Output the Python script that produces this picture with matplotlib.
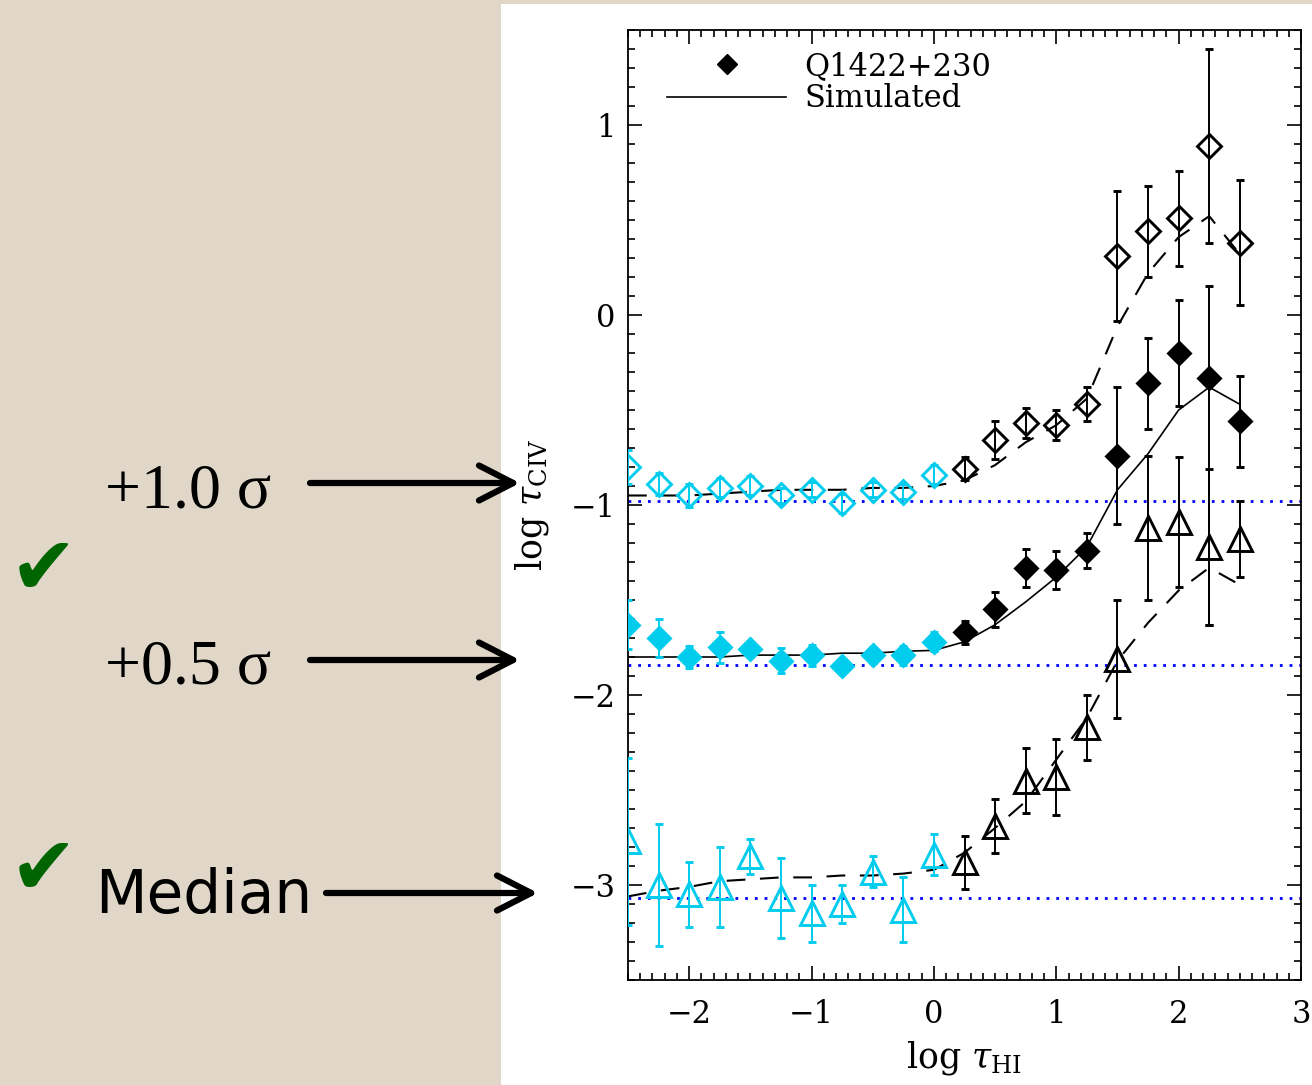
import numpy as np
import matplotlib
matplotlib.use('Agg')
from matplotlib import pyplot as plt
from matplotlib.lines import Line2D
from matplotlib.patches import Rectangle, FancyArrowPatch
from matplotlib.ticker import MultipleLocator

# bins in log tau_HI
log_tau_hi = [-2.5, -2.25, -2.0, -1.75, -1.5, -1.25, -1.0, -0.75, -0.5, -0.25, 0.0,
              0.25, 0.5, 0.75, 1.0, 1.25, 1.5, 1.75, 2.0, 2.25, 2.5]

# +1.0 sigma percentile (open diamonds)
p10_obs = [-0.80, -0.89, -0.95, -0.91, -0.90, -0.95, -0.92, -0.99, -0.92, -0.93, -0.84,
           -0.81, -0.66, -0.57, -0.58, -0.47, 0.31, 0.44, 0.51, 0.89, 0.38]
p10_err = [0.09, 0.06, 0.06, 0.05, 0.05, 0.04, 0.04, 0.05, 0.04, 0.04, 0.05,
           0.06, 0.10, 0.08, 0.08, 0.09, 0.34, 0.24, 0.25, 0.51, 0.33]
p10_sim = [-0.95, -0.95, -0.95, -0.94, -0.93, -0.92, -0.92, -0.92, -0.91, -0.91, -0.90,
           -0.87, -0.79, -0.67, -0.58, -0.44, -0.06, 0.22, 0.41, 0.52, 0.32]

# +0.5 sigma percentile (filled diamonds)
p05_obs = [-1.63, -1.70, -1.80, -1.75, -1.76, -1.82, -1.79, -1.85, -1.79, -1.79, -1.72,
           -1.67, -1.55, -1.33, -1.34, -1.24, -0.74, -0.36, -0.20, -0.33, -0.56]
p05_err_lo = [0.13, 0.10, 0.06, 0.08, 0.04, 0.065, 0.055, 0.03, 0.04, 0.05, 0.05,
              0.06, 0.09, 0.10, 0.10, 0.09, 0.36, 0.24, 0.28, 1.30, 0.24]
p05_err_hi = [0.13, 0.10, 0.06, 0.08, 0.04, 0.065, 0.055, 0.03, 0.04, 0.05, 0.05,
              0.06, 0.09, 0.10, 0.10, 0.09, 0.36, 0.24, 0.28, 0.48, 0.24]
p05_sim = [-1.80, -1.80, -1.80, -1.80, -1.79, -1.79, -1.79, -1.78, -1.78, -1.77, -1.765,
           -1.72, -1.63, -1.51, -1.38, -1.22, -0.92, -0.73, -0.50, -0.38, -0.47]

# median (open triangles)
med_obs = [-2.77, -3.00, -3.05, -3.01, -2.85, -3.07, -3.15, -3.10, -2.93, -3.13, -2.84,
           -2.88, -2.69, -2.45, -2.43, -2.17, -1.81, -1.12, -1.09, -1.22, -1.18]
med_err = [0.44, 0.32, 0.17, 0.21, 0.09, 0.21, 0.15, 0.10, 0.08, 0.17, 0.11,
           0.14, 0.14, 0.17, 0.20, 0.17, 0.31, 0.38, 0.34, 0.41, 0.20]
med_sim = [-3.06, -3.03, -3.01, -2.98, -2.97, -2.96, -2.96, -2.95, -2.95, -2.94, -2.92,
           -2.83, -2.70, -2.56, -2.34, -2.12, -1.82, -1.62, -1.45, -1.33, -1.42]

# noise levels
noise_levels = [-0.98, -1.84, -3.07]

W, H = 1312, 1085
cyan = '#00CCEE'
beige = '#E0D7C8'

plt.rcParams['mathtext.fontset'] = 'dejavuserif'
serif = 'DejaVu Serif'

fig = plt.figure(figsize=(W / 100, H / 100), dpi=100)
fig.patch.set_facecolor(beige)
fig.patches.append(Rectangle((501 / W, 0), 1 - 501 / W, 1081 / H, transform=fig.transFigure,
                             facecolor='white', edgecolor='none', zorder=-1))

ax = fig.add_axes([628 / W, 105 / H, 673 / W, 950 / H])

x = np.array(log_tau_hi)
early = x <= 0


def draw_set(vals, lo, hi, marker, ms, filled):
    vals, lo, hi = np.array(vals), np.array(lo), np.array(hi)
    for mask, col in ((early, cyan), (~early, 'black')):
        ax.errorbar(x[mask], vals[mask], yerr=[lo[mask], hi[mask]], fmt=marker, ms=ms,
                    mfc=col if filled else 'none', mec=col, mew=2.1, ecolor=col,
                    elinewidth=1.4, capsize=3, capthick=1.7, zorder=3)


draw_set(p10_obs, p10_err, p10_err, 'D', 12.5, False)
draw_set(p05_obs, p05_err_lo, p05_err_hi, 'D', 11, True)
draw_set(med_obs, med_err, med_err, '^', 17, False)

ax.plot(x, p10_sim, color='black', lw=1.5, ls=(0, (9, 7)), zorder=2)
ax.plot(x, p05_sim, color='black', lw=1.2, zorder=2)
ax.plot(x, med_sim, color='black', lw=1.5, ls=(0, (9, 7)), zorder=2)

for lev in noise_levels:
    ax.axhline(lev, color='#0000FF', lw=2, ls=(0, (1, 2.5)), zorder=1)

ax.set_xlim(-2.5, 3)
ax.set_ylim(-3.5, 1.5)
ax.xaxis.set_major_locator(MultipleLocator(1))
ax.xaxis.set_minor_locator(MultipleLocator(0.1))
ax.yaxis.set_major_locator(MultipleLocator(1))
ax.yaxis.set_minor_locator(MultipleLocator(0.1))
ax.tick_params(which='both', direction='in', top=True, right=True, width=1.2)
ax.tick_params(which='major', length=10)
ax.tick_params(which='minor', length=5)
ax.tick_params(axis='x', pad=14)
ax.tick_params(axis='y', pad=9)
for lab in ax.get_xticklabels() + ax.get_yticklabels():
    lab.set_fontfamily(serif)
    lab.set_fontsize(22)
for s in ax.spines.values():
    s.set_linewidth(1.3)

ax.set_xlabel(r'log $\tau_{\rm HI}$', fontsize=25, fontfamily=serif)
ax.set_ylabel(r'log $\tau_{\rm CIV}$', fontsize=25, fontfamily=serif)
ax.xaxis.set_label_coords(0.5, -0.062)
ax.yaxis.set_label_coords(-0.114, 0.5)

handles = [Line2D([], [], marker='D', color='black', ls='none', ms=10),
           Line2D([], [], color='black', lw=1.2)]
leg = ax.legend(handles, ['Q1422+230', 'Simulated'], loc='upper left',
                bbox_to_anchor=(0.058, 0.978), frameon=False, handlelength=3.9,
                handletextpad=0.6, labelspacing=0.05, borderaxespad=0, borderpad=0,
                prop={'family': serif, 'size': 22})

# left panel annotations
fig.text(105 / W, 1 - 508 / H, '+1.0 σ', fontfamily='Liberation Serif', fontsize=46, va='baseline')
fig.text(105 / W, 1 - 683 / H, '+0.5 σ', fontfamily='Liberation Serif', fontsize=46, va='baseline')
fig.text(95 / W, 1 - 913 / H, 'Median', fontfamily='DejaVu Sans', fontsize=43, va='baseline')
for yc in (572, 872):
    fig.text(10 / W, 1 - yc / H, '✔', fontfamily='DejaVu Sans', fontsize=58,
             color='#006400', va='center', ha='left')

for x0, x1, yy in ((310, 520, 483), (310, 520, 660), (326, 538, 893)):
    fig.add_artist(FancyArrowPatch((x0 / W, 1 - yy / H), (x1 / W, 1 - yy / H),
                                   transform=fig.transFigure,
                                   arrowstyle='->,head_length=0.82,head_width=0.42',
                                   mutation_scale=30, lw=4.5, color='black',
                                   shrinkA=0, shrinkB=0))

fig.savefig('out.png', dpi=100, facecolor=fig.get_facecolor())
